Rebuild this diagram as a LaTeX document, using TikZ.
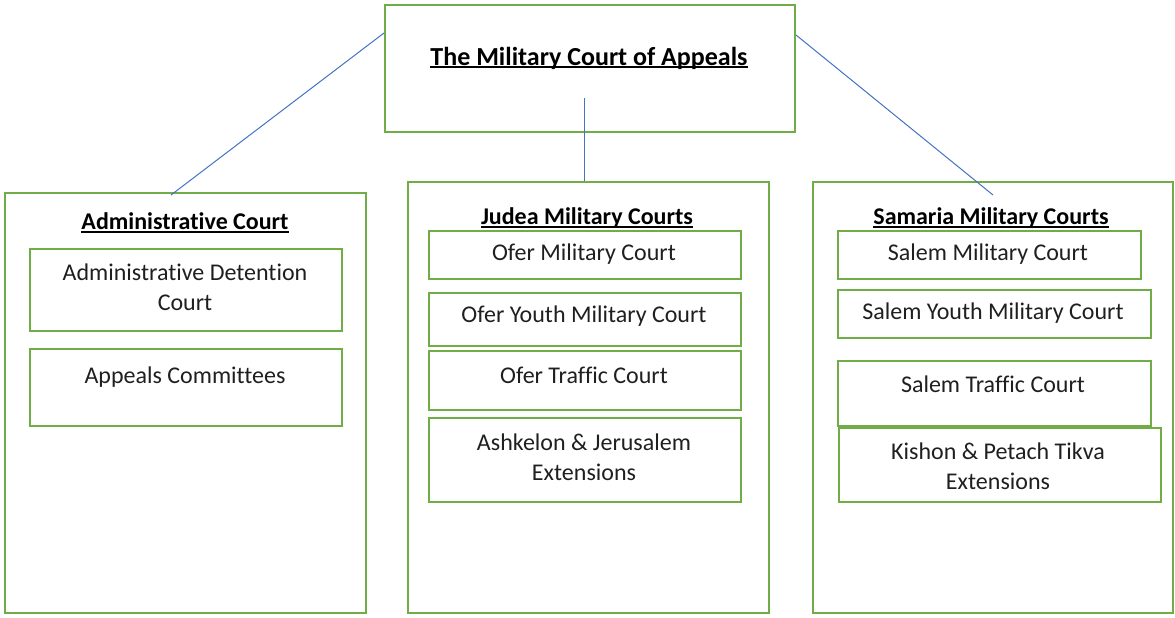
\documentclass[tikz,border=0pt]{standalone}
\usepackage{fontspec}
\setmainfont{Carlito}[Ligatures=NoCommon]
\newcommand\myul[1]{\setbox0\hbox{#1}\rlap{\rule[-3pt]{\wd0}{1.6pt}}\box0}
\usetikzlibrary{calc}
\definecolor{boxgreen}{HTML}{70AD47}
\definecolor{linkblue}{HTML}{4472C4}
\tikzset{
  box/.style={draw=boxgreen, line width=2pt, inner sep=0pt, anchor=north west},
  link/.style={draw=linkblue, line width=1pt},
  body/.style={font=\fontsize{24}{30}\selectfont, align=center, text=black!88, inner sep=0pt},
  head/.style={font=\fontsize{24}{28}\selectfont\bfseries, align=center, text=black, inner sep=0pt},
  title/.style={font=\fontsize{26}{30}\selectfont\bfseries, align=center, text=black, inner sep=0pt}
}
\begin{document}
\begin{tikzpicture}[x=1pt,y=-1pt]
\useasboundingbox (0,0) rectangle (1175,618);
% boxes
\node[box, minimum width=410pt, minimum height=127pt] (top) at (384,4) {};
\node[box, minimum width=361pt, minimum height=420pt] (admin) at (4,192) {};
\node[box, minimum width=312pt, minimum height=82pt] (adm1) at (29,248) {};
\node[box, minimum width=312pt, minimum height=77pt] (adm2) at (29,348) {};
\node[box, minimum width=361pt, minimum height=431pt] (judea) at (407,181) {};
\node[box, minimum width=312pt, minimum height=48pt] (j1) at (428,230) {};
\node[box, minimum width=312pt, minimum height=53pt] (j2) at (428,292) {};
\node[box, minimum width=312pt, minimum height=59pt] (j3) at (428,350) {};
\node[box, minimum width=312pt, minimum height=84pt] (j4) at (428,417) {};
\node[box, minimum width=360pt, minimum height=431pt] (samaria) at (812,181) {};
\node[box, minimum width=303pt, minimum height=48pt] (s1) at (837,230) {};
\node[box, minimum width=313pt, minimum height=48pt] (s2) at (837,289) {};
\node[box, minimum width=313pt, minimum height=65pt] (s3) at (837,360) {};
\node[box, minimum width=322pt, minimum height=74pt] (s4) at (838,427) {};
% headings
\node[title] (ttop) at (589,58) {\myul{The Military Court of Appeals}};
\node[head] (tadmin) at (185,223) {\myul{Administrative Court}};
\node[head] (tjudea) at (587,218) {\myul{Judea Military Courts}};
\node[head] (tsamaria) at (991,218) {\myul{Samaria Military Courts}};
% body texts
\node[body] (tadm1) at (185,287) {Administrative Detention\\Court};
\node[body] (tadm2) at (185,377) {Appeals Committees};
\node[body] (tj1) at (584,254) {Ofer Military Court};
\node[body] (tj2) at (584,316) {Ofer Youth Military Court};
\node[body] (tj3) at (584,375) {Ofer Traffic Court};
\node[body] (tj4) at (584,457) {Ashkelon \& Jerusalem\\Extensions};
\node[body] (ts1) at (988,254) {Salem Military Court};
\node[body] (ts2) at (993,313) {Salem Youth Military Court};
\node[body] (ts3) at (993,384) {Salem Traffic Court};
\node[body] (ts4) at (998,466) {Kishon \& Petach Tikva\\Extensions};
% connectors
\draw[link] ($(top.north west)+(0,29)$) -- ($(admin.north west)+(167,3)$);
\draw[link] ($(top.north west)+(200,94)$) -- ($(judea.north west)+(177,0)$);
\draw[link] ($(top.north east)+(0,31)$) -- ($(samaria.north west)+(181,14)$);
\end{tikzpicture}
\end{document}
